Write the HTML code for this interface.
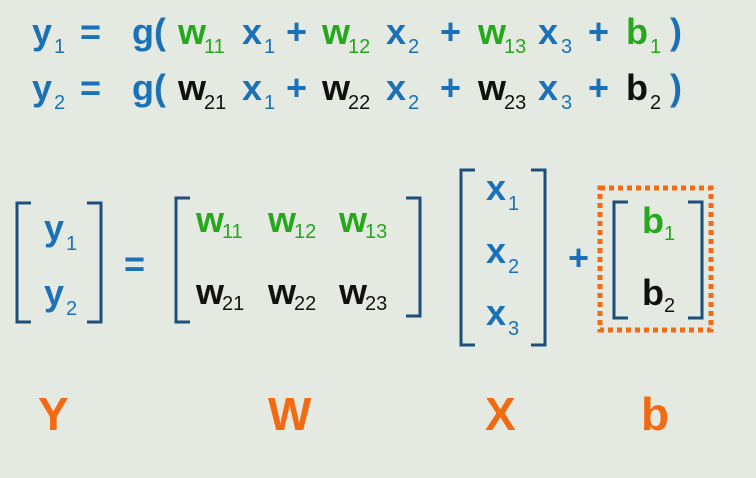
<!DOCTYPE html>
<html><head><style>
html,body{margin:0;padding:0;background:#e4e9e1;}
svg{display:block;}
text{font-family:"Liberation Sans",sans-serif;font-weight:bold;}
.B{fill:#1b71b8}.G{fill:#25a81c}.K{fill:#111}.O{fill:#f26b12}
.m{font-size:36px}.s{font-size:20px;font-weight:normal}
</style></head><body>
<svg width="756" height="478" viewBox="0 0 756 478">
<rect width="756" height="478" fill="#e4e9e1"/>
<!-- line 1 -->
<g class="m">
<text x="32" y="44" class="B">y</text><text x="54" y="53" class="B s">1</text>
<text x="80" y="44" class="B">=</text>
<text x="132" y="44" class="B">g(</text>
<text x="178" y="44" class="G">w</text><text x="204" y="53" class="G s">11</text>
<text x="242" y="44" class="B">x</text><text x="264" y="53" class="B s">1</text>
<text x="286" y="44" class="B">+</text>
<text x="322" y="44" class="G">w</text><text x="348" y="53" class="G s">12</text>
<text x="386" y="44" class="B">x</text><text x="408" y="53" class="B s">2</text>
<text x="440" y="44" class="B">+</text>
<text x="478" y="44" class="G">w</text><text x="504" y="53" class="G s">13</text>
<text x="538" y="44" class="B">x</text><text x="561" y="53" class="B s">3</text>
<text x="588" y="44" class="B">+</text>
<text x="626" y="44" class="G">b</text><text x="650" y="53" class="G s">1</text>
<text x="670" y="44" class="B">)</text>
<!-- line 2 -->
<text x="32" y="100" class="B">y</text><text x="54" y="109" class="B s">2</text>
<text x="80" y="100" class="B">=</text>
<text x="132" y="100" class="B">g(</text>
<text x="178" y="100" class="K">w</text><text x="204" y="109" class="K s">21</text>
<text x="242" y="100" class="B">x</text><text x="264" y="109" class="B s">1</text>
<text x="286" y="100" class="B">+</text>
<text x="322" y="100" class="K">w</text><text x="348" y="109" class="K s">22</text>
<text x="386" y="100" class="B">x</text><text x="408" y="109" class="B s">2</text>
<text x="440" y="100" class="B">+</text>
<text x="478" y="100" class="K">w</text><text x="504" y="109" class="K s">23</text>
<text x="538" y="100" class="B">x</text><text x="561" y="109" class="B s">3</text>
<text x="588" y="100" class="B">+</text>
<text x="626" y="100" class="K">b</text><text x="650" y="109" class="K s">2</text>
<text x="670" y="100" class="B">)</text>
</g>
<!-- brackets -->
<g fill="none" stroke="#1c4f7c" stroke-width="3">
<path d="M31 203 H17 V322 H31"/><path d="M87 203 H101 V322 H87"/>
<path d="M190 198 H176 V322 H190"/><path d="M406 198 H420 V316 H406"/>
<path d="M475 170 H461 V345 H475"/><path d="M531 170 H545 V345 H531"/>
<path d="M628 202 H614 V318 H628"/><path d="M688 202 H702 V318 H688"/>
</g>
<rect x="600" y="188" width="111" height="142" fill="none" stroke="#f26b12" stroke-width="5" stroke-dasharray="5 4"/>
<g class="m">
<text x="44" y="240" class="B">y</text><text x="66" y="250" class="B s">1</text>
<text x="44" y="305" class="B">y</text><text x="66" y="315" class="B s">2</text>
<text x="124" y="276" class="B">=</text>
<text x="196" y="232" class="G">w</text><text x="222" y="238" class="G s">11</text>
<text x="268" y="232" class="G">w</text><text x="294" y="238" class="G s">12</text>
<text x="339" y="232" class="G">w</text><text x="365" y="238" class="G s">13</text>
<text x="196" y="304" class="K">w</text><text x="222" y="310" class="K s">21</text>
<text x="268" y="304" class="K">w</text><text x="294" y="310" class="K s">22</text>
<text x="339" y="304" class="K">w</text><text x="365" y="310" class="K s">23</text>
<text x="486" y="200" class="B">x</text><text x="508" y="210" class="B s">1</text>
<text x="486" y="263" class="B">x</text><text x="508" y="273" class="B s">2</text>
<text x="486" y="325" class="B">x</text><text x="508" y="335" class="B s">3</text>
<text x="568" y="270" class="B">+</text>
<text x="642" y="233" class="G">b</text><text x="664" y="240" class="G s">1</text>
<text x="642" y="305" class="K">b</text><text x="664" y="312" class="K s">2</text>
</g>
<g style="font-size:46px" class="O">
<text x="38" y="430" class="O">Y</text>
<text x="268" y="430" class="O">W</text>
<text x="485" y="430" class="O">X</text>
<text x="641" y="430" class="O">b</text>
</g>
</svg>
</body></html>
